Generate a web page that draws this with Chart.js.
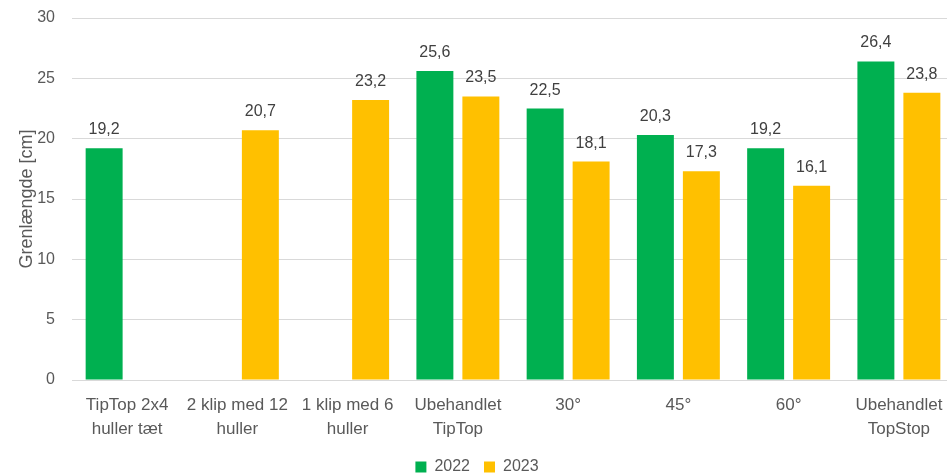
<!DOCTYPE html>
<html>
<head>
<meta charset="utf-8">
<script src="https://cdn.jsdelivr.net/npm/chart.js@4.4.1/dist/chart.umd.min.js"></script>
<style>
  html, body { margin: 0; padding: 0; background: #fff; overflow: hidden; }
  #wrap { width: 956px; height: 473px; }
</style>
</head>
<body>
<div id="wrap"><canvas id="chart"></canvas></div>
<script>
// kategorier og værdier
const categories = [
  ['TipTop 2x4', 'huller tæt'],
  ['2 klip med 12', 'huller'],
  ['1 klip med 6', 'huller'],
  ['Ubehandlet', 'TipTop'],
  '30°',
  '45°',
  '60°',
  ['Ubehandlet', 'TopStop']
];
const values2022 = [19.2, null, null, 25.6, 22.5, 20.3, 19.2, 26.4];
const values2023 = [null, 20.7, 23.2, 23.5, 18.1, 17.3, 16.1, 23.8];
const yTicks = [0, 5, 10, 15, 20, 25, 30];

const FONT = "'Liberation Sans', Arial, sans-serif";

// tal over søjlerne (dansk decimalkomma)
const valueLabels = {
  id: 'valueLabels',
  afterDatasetsDraw(chart) {
    const ctx = chart.ctx;
    ctx.save();
    ctx.font = '16px ' + FONT;
    ctx.fillStyle = '#404040';
    ctx.textAlign = 'center';
    ctx.textBaseline = 'alphabetic';
    chart.data.datasets.forEach((ds, i) => {
      chart.getDatasetMeta(i).data.forEach((bar, j) => {
        const v = ds.data[j];
        if (v == null) return;
        ctx.fillText(v.toFixed(1).replace('.', ','), bar.x, bar.y - 14);
      });
    });
    ctx.restore();
  }
};

new Chart(document.getElementById('chart'), {
  type: 'bar',
  data: {
    labels: categories,
    datasets: [
      { label: '2022', data: values2022, backgroundColor: '#00b050' },
      { label: '2023', data: values2023, backgroundColor: '#ffc000' }
    ]
  },
  options: {
    responsive: true,
    maintainAspectRatio: false,
    animation: false,
    datasets: { bar: { categoryPercentage: 0.834, barPercentage: 0.804 } },
    layout: { autoPadding: false, padding: { top: 18, right: 2, left: 0, bottom: -12 } },
    plugins: {
      legend: {
        position: 'bottom',
        labels: {
          font: { family: FONT, size: 16 },
          color: '#595959',
          boxWidth: 11,
          boxHeight: 11,
          padding: 14
        }
      },
      tooltip: { enabled: false }
    },
    scales: {
      x: {
        grid: { display: false },
        border: { color: '#d9d9d9' },
        afterFit: s => { s.height = 65; },
        ticks: {
          font: { family: FONT, size: 17, lineHeight: 1.42 },
          color: '#595959',
          maxRotation: 0,
          autoSkip: false,
          padding: 5
        }
      },
      y: {
        min: 0,
        max: 30,
        afterBuildTicks: s => { s.ticks = yTicks.map(v => ({ value: v })); },
        // fast bredde, og ingen ekstra top/bund-luft fra tick-labels
        afterFit: s => { s.width = 72; s.paddingTop = 0; s.paddingBottom = 0; },
        grid: { color: '#d9d9d9', drawTicks: false },
        border: { display: false },
        ticks: {
          font: { family: FONT, size: 16 },
          color: '#595959',
          padding: 17
        },
        title: {
          display: true,
          text: 'Grenlængde [cm]',
          font: { family: FONT, size: 18 },
          color: '#595959',
          padding: { top: 16, bottom: 0 }
        }
      }
    }
  },
  plugins: [valueLabels]
});
</script>
</body>
</html>
